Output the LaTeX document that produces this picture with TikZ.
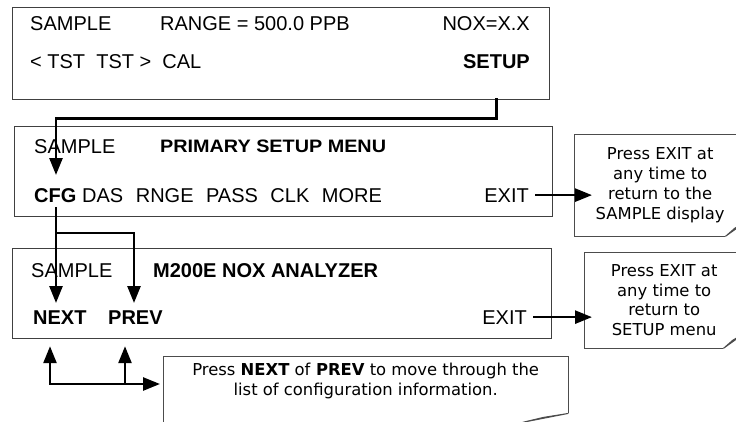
\documentclass[tikz,border=0pt]{standalone}
\usepackage{fontspec}
\usepackage{graphicx}
\setmainfont{Liberation Sans}
\newfontfamily\notefont{DejaVu Sans}
\usetikzlibrary{arrows.meta,positioning}

% paper note with a curled lower right corner
\newcommand\curlnote[3]{%
  \draw[paperline] (#1.north east) -- (#1.north west) -- (#1.south west) -- ([xshift=-#2pt]#1.south east);
  \filldraw[paperline, fill=black!20] ([xshift=-#2pt]#1.south east) -- ([xshift=-0.55*#2pt, yshift=0.55*#3pt]#1.south east) -- ([yshift=#3pt]#1.south east) -- cycle;
  \draw[paperline] ([yshift=#3pt]#1.south east) -- (#1.north east);
}
\newcommand\keygap{\hspace{12.5pt}}

\begin{document}
\begin{tikzpicture}[
        x=1pt, y=-1pt,
        >={Triangle[length=17pt,width=13pt]},
        panel/.style={draw=black!75, line width=1.2pt, anchor=north west, inner sep=0},
        lcd/.style={font=\fontsize{20}{24}\selectfont, inner sep=0, anchor=base west},
        lcdbold/.style={lcd, font=\fontsize{20}{24}\selectfont\bfseries},
        lcdsmall/.style={lcd, font=\fontsize{18}{21}\selectfont\bfseries},
        paper/.style={anchor=north west, inner sep=0, align=center,
            font=\notefont\fontsize{16.4}{19.7}\selectfont},
        paperline/.style={draw=black!70, line width=1pt},
        flow/.style={line width=2.6pt, ->}
    ]
        \useasboundingbox (0,0) rectangle (736,421);
        \clip (0,0) rectangle (736,421);

        % front panel displays
        \node[panel, minimum width=537, minimum height=92] (p1) at (12,7) {};
        \node[panel, minimum width=538, minimum height=90] (p2) at (14,126) {};
        \node[panel, minimum width=539, minimum height=90] (p3) at (12,248) {};

        \node[lcd] (smp1) at (30,30) {SAMPLE};
        \node[lcd] (range) at (160,30) {RANGE = 500.0 PPB};
        \node[lcd, anchor=base east] (nox) at (530,30) {NOX=X.X};
        \node[lcd] (tst) at (30,68) {<\ TST\ \ TST\ >\ \ CAL};
        \node[lcdbold, anchor=base east] (setup) at (530,68) {SETUP};

        \node[lcd] (smp2) at (34,153.5) {SAMPLE};
        \node[lcdsmall] (menu) at (160,152.5) {\scalebox{1.1}[1]{PRIMARY SETUP MENU}};
        \node[lcdbold] (cfg) at (34,202) {CFG};
        \node[lcd] (keys) at (82,202) {DAS\keygap RNGE\keygap PASS\keygap CLK\keygap MORE};
        \node[lcd, anchor=base east] (exitA) at (529,202) {EXIT};

        \node[lcd] (smp3) at (31,277.5) {SAMPLE};
        \node[lcdbold] (model) at (153,277.5) {M200E NOX ANALYZER};
        \node[lcdbold] (next) at (33,324) {NEXT};
        \node[lcdbold] (prev) at (108,324) {PREV};
        \node[lcd, anchor=base east] (exitB) at (527,324) {EXIT};

        % notes
        \node[paper, minimum width=172, minimum height=102] (noteA) at (574,134) {Press EXIT at\\any time to\\return to the\\SAMPLE display};
        \node[paper, minimum width=160, minimum height=96] (noteB) at (584,252) {Press EXIT at\\any time to\\return to\\SETUP menu};
        \node[paper, minimum width=405, minimum height=66] (noteC) at (163,356) {};
        \node[paper, below=7pt of noteC.north] (noteCtext) {Press \textbf{NEXT} of \textbf{PREV} to move through the\\list of configuration information.};
        \curlnote{noteA}{21}{15}
        \curlnote{noteB}{21}{15}
        \curlnote{noteC}{46}{9}

        % key paths
        \coordinate (cfgin) at (56,175);
        \coordinate (fork) at (56,233);
        \coordinate (nextin) at (56,303);
        \coordinate (previn) at (134,303);
        \coordinate (loop) at (50,384);
        \coordinate (prevup) at (125,384);

        \draw[flow] ([yshift=2pt]setup.south |- p1.south) -- ++(0,20) -| (cfgin);
        \draw[flow] ([yshift=-5pt]cfgin |- cfg.south) -- (nextin);
        \draw[flow] (fork) -| (previn);
        \draw[flow, <->] ([yshift=-7pt]loop |- p3.south) -- (loop) -- ([xshift=-3pt]loop -| noteC.west);
        \draw[flow] (prevup) -- ([yshift=-7pt]prevup |- p3.south);
        \draw[flow] ([xshift=6pt]exitA.east) -- ([xshift=18pt]exitA.east -| noteA.west);
        \draw[flow] ([xshift=6pt]exitB.east) -- ([xshift=8pt]exitB.east -| noteB.west);
    \end{tikzpicture}
\end{document}
